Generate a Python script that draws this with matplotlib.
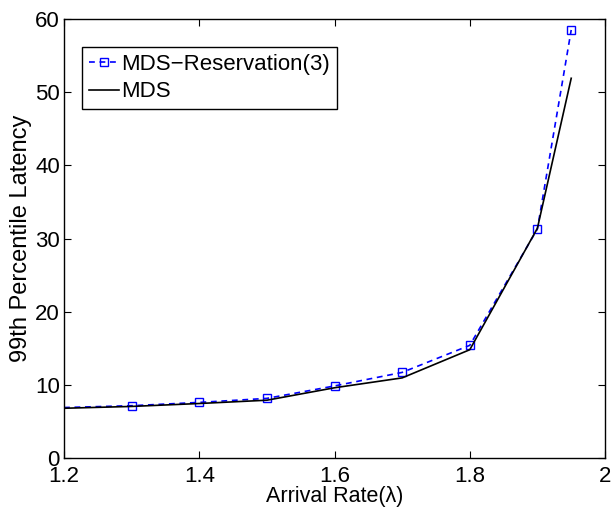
import matplotlib
matplotlib.use("Agg")
import matplotlib.pyplot as plt

plt.rcParams['font.family'] = ['Liberation Sans', 'DejaVu Sans']

rate = [1.2, 1.3, 1.4, 1.5, 1.6, 1.7, 1.8, 1.9, 1.95]
mds_res = [6.9, 7.15, 7.6, 8.15, 9.85, 11.7, 15.4, 31.3, 58.5]
mds = [6.8, 7.05, 7.45, 7.9, 9.6, 10.95, 14.8, 31.4, 51.9]

xticks = [1.2, 1.4, 1.6, 1.8, 2.0]
xticklabels = ['1.2', '1.4', '1.6', '1.8', '2']
yticks = [0, 10, 20, 30, 40, 50, 60]

fig = plt.figure(figsize=(6.12, 5.08), dpi=100)
ax = fig.add_axes([0.1046, 0.0984, 0.884, 0.8642])

ax.plot(rate, mds_res, color='blue', linestyle='--', linewidth=1.2,
        marker='s', markersize=5.5, markerfacecolor='none',
        markeredgecolor='blue', markeredgewidth=1.0,
        markevery=slice(1, None), dashes=(3.5, 2.8),
        label='MDS\u2212Reservation(3)')
ax.plot(rate, mds, color='black', linestyle='-', linewidth=1.2, label='MDS')

ax.set_xlim(1.2, 2.0)
ax.set_ylim(0, 60)
ax.set_xticks(xticks)
ax.set_xticklabels(xticklabels)
ax.set_yticks(yticks)
ax.tick_params(direction='in', top=True, right=True, labelsize=16,
               length=5, width=0.8)
ax.tick_params(axis='x', pad=6)
ax.tick_params(axis='y', pad=3)
for s in ax.spines.values():
    s.set_linewidth(1.0)

ax.set_xlabel('Arrival Rate(\u03bb)', fontsize=15.5, labelpad=-1)
ax.set_ylabel('99th Percentile Latency', fontsize=17, labelpad=2)

leg = ax.legend(loc='upper left', bbox_to_anchor=(0.134, 0.9075),
                bbox_transform=fig.transFigure, fontsize=16,
                fancybox=False, edgecolor='black', framealpha=1,
                borderaxespad=0, handlelength=1.35, handletextpad=0.12,
                borderpad=0.3, labelspacing=0.3)
leg.get_frame().set_linewidth(1.0)

fig.savefig('out.png', dpi=100)
